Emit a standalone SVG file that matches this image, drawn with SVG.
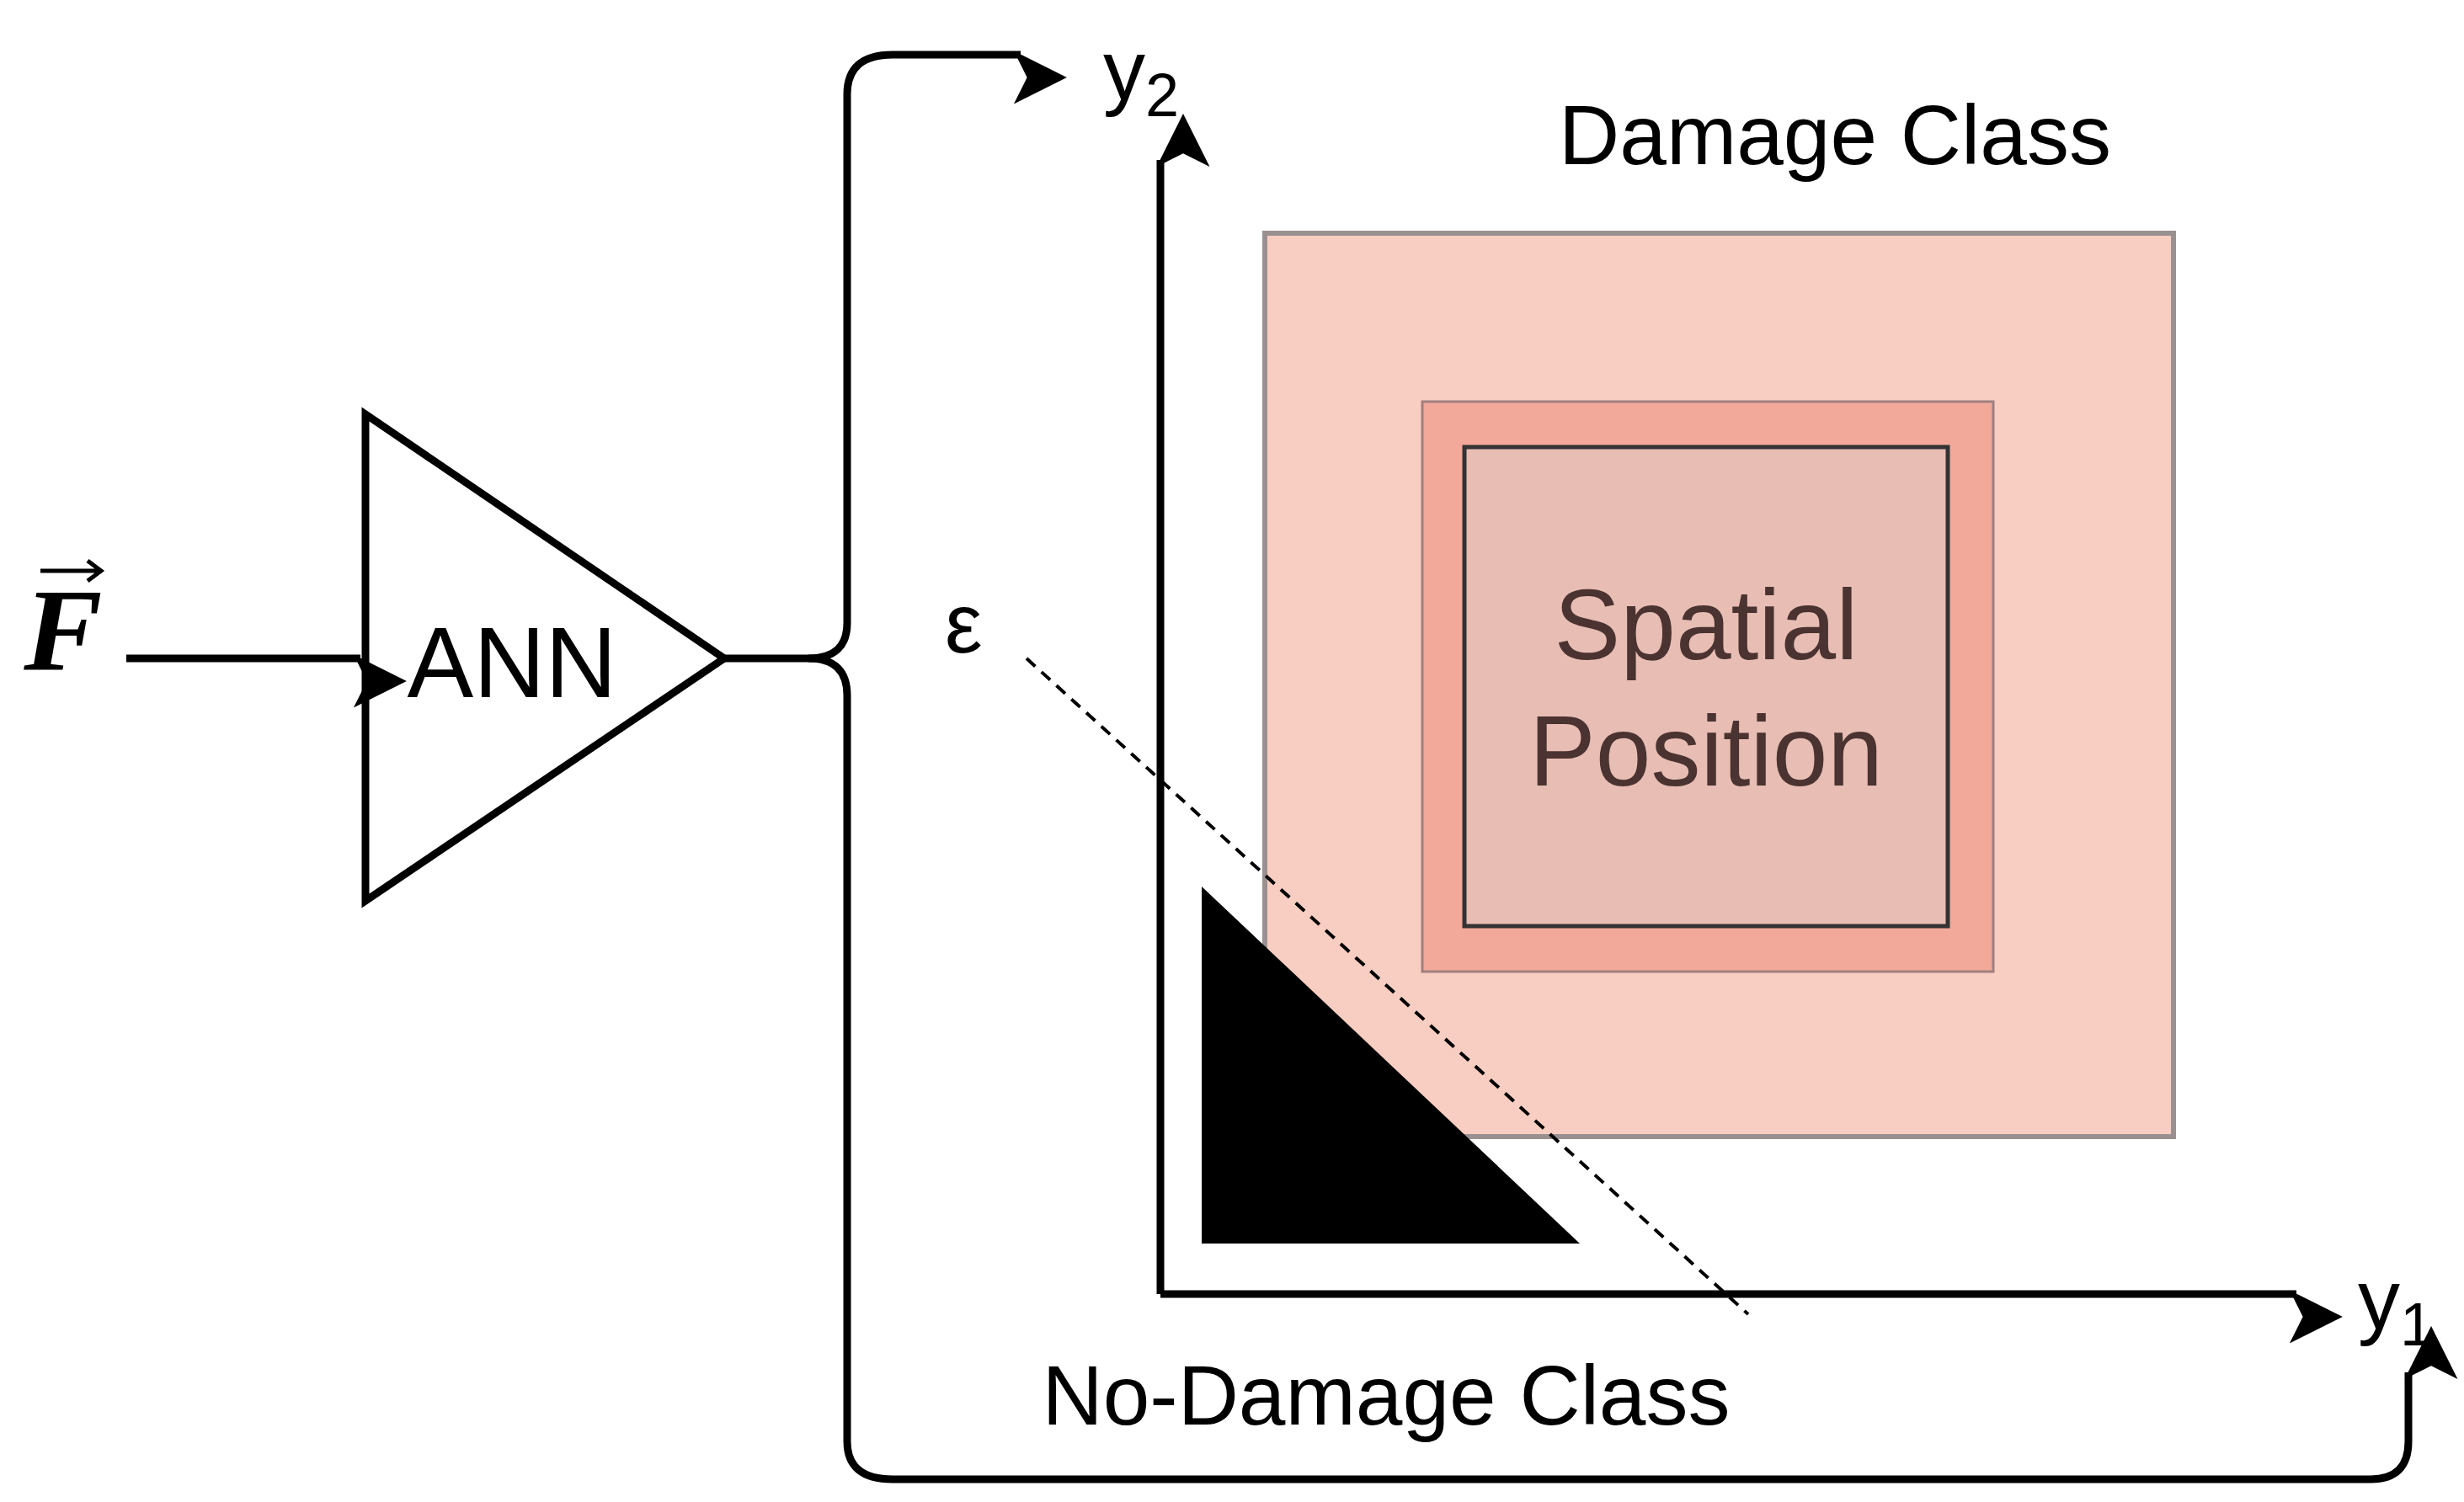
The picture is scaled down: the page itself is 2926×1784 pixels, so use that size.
<svg xmlns="http://www.w3.org/2000/svg" width="2926" height="1784" viewBox="0 0 2926 1784">
<style>
.ln{fill:none;stroke:#000;stroke-width:9;stroke-linejoin:round}
.t{font-family:"Liberation Sans",Arial,sans-serif;fill:#000}
</style>
<defs>
<marker id="ah" viewBox="0 0 10 10" refX="9" refY="5" markerWidth="9" markerHeight="9" markerUnits="userSpaceOnUse" orient="auto" style="overflow:visible">
<path d="M0,0 L10,5 L0,10 L2.5,5 Z" transform="scale(7)" fill="#000"/>
</marker>
</defs>
<rect width="2926" height="1784" fill="#fff"/>
<g id="damage">
<rect x="1502" y="277" width="1079" height="1073" fill="#f8cdc2" stroke="#9a9090" stroke-width="6"/>
<rect x="1689" y="477" width="678" height="677" fill="#f2a99a" stroke="#a08080" stroke-width="3"/>
<rect x="1739" y="531" width="574" height="569" fill="#e8bdb4" stroke="#333" stroke-width="5"/>
<text class="t" x="2026" y="783" font-size="118" text-anchor="middle" style="fill:#4a3330">Spatial</text>
<text class="t" x="2026" y="933" font-size="118" text-anchor="middle" style="fill:#4a3330">Position</text>
<text class="t" x="2179" y="195" font-size="100" text-anchor="middle">Damage Class</text>
</g>
<g id="nodamage">
<polygon points="1427,1053 1427,1477 1876,1477" fill="#000"/>
<text class="t" x="1646" y="1692" font-size="100" text-anchor="middle">No-Damage Class</text>
</g>
<g id="ann">
<polygon points="434,492 434,1070 860,782" fill="#fff" stroke="#000" stroke-width="9"/>
<text class="t" x="608" y="828" font-size="118" text-anchor="middle">ANN</text>
</g>
<g id="input">
<text x="75" y="795" font-family="Liberation Serif,serif" font-style="italic" font-weight="bold" font-size="140" text-anchor="middle">F</text>
<path d="M48,678 L118,678 M104,666 L120,678 L104,690" fill="none" stroke="#000" stroke-width="5"/>
</g>
<g id="labels">
<text class="t" x="1310" y="118" font-size="100">y<tspan font-size="72" dy="20">2</tspan></text>
<text class="t" x="2800" y="1578" font-size="100">y<tspan font-size="72" dy="20">1</tspan></text>
<text class="t" x="1122" y="775" font-size="100">ε</text>
</g>
<g id="connectors">
<line class="ln" x1="150" y1="782" x2="428" y2="782" marker-end="url(#ah)"/>
<path class="ln" d="M860,782 L960,782 Q1006,782 1006,740 L1006,112 Q1006,65 1060,65 L1212,65" marker-end="url(#ah)"/>
<path class="ln" d="M960,782 Q1006,782 1006,826 L1006,1712 Q1006,1757 1060,1757 L2815,1757 Q2860,1757 2860,1712 L2860,1630" marker-end="url(#ah)"/>
<path class="ln" d="M1378,1537 L1378,190" marker-end="url(#ah)"/>
<path class="ln" d="M1378,1537 L2727,1537" marker-end="url(#ah)"/>
<line x1="1219" y1="782" x2="2076" y2="1561" stroke="#000" stroke-width="4" stroke-dasharray="14,10"/>
</g>
</svg>
